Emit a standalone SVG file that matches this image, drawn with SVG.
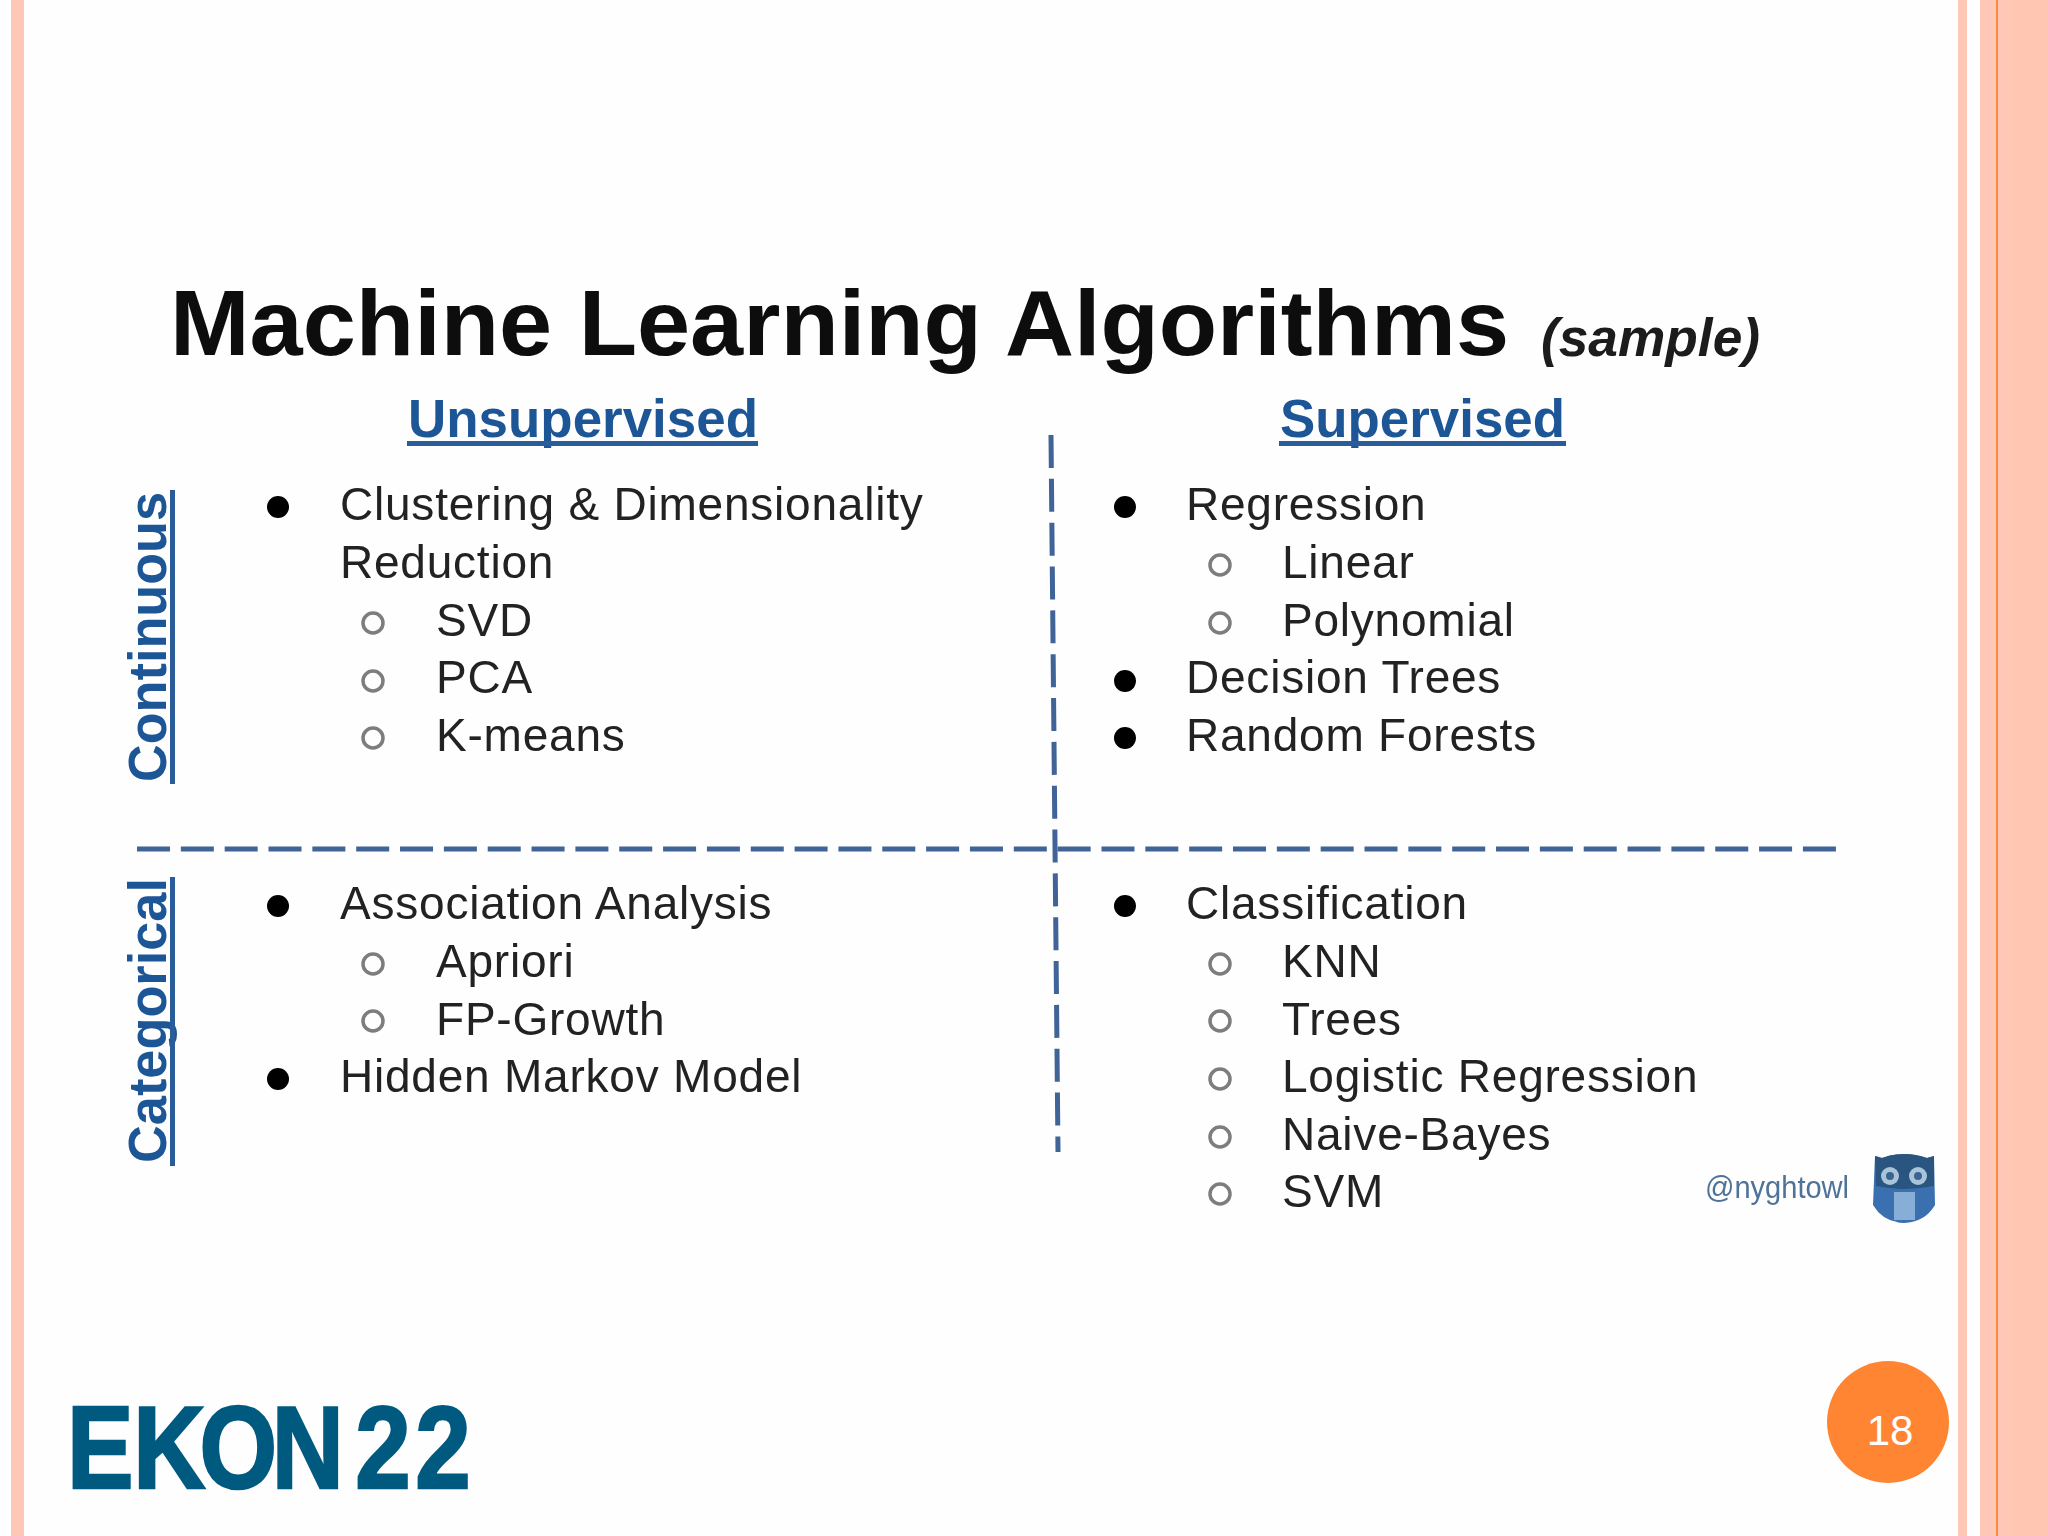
<svg xmlns="http://www.w3.org/2000/svg" width="2048" height="1536" viewBox="0 0 2048 1536">
<style>
text{font-family:"Liberation Sans",Arial,sans-serif}
.b{font-size:46px;letter-spacing:.78px;fill:#222}
.h{font-size:53px;font-weight:bold;fill:#1f5696}
.r{fill:none;stroke:#7d7d7d;stroke-width:3.5}
.d{fill:#000}
.dash{fill:none;stroke:#3f6398;stroke-width:5;stroke-dasharray:33 10.84}
.u{fill:#2a5c9a}
</style>
<defs><filter id="soft" x="-5%" y="-5%" width="110%" height="110%"><feGaussianBlur stdDeviation="0.7"/></filter></defs>
<rect id="background" width="2048" height="1536" fill="#fefefe"/>
<g id="frame">
<rect x="11" width="13" height="1536" fill="#ffc8b6"/>
<rect x="1958" width="9" height="1536" fill="#ffc8b6"/>
<rect x="1980" width="68" height="1536" fill="#ffc8b6"/>
<rect x="2012" width="36" height="1536" fill="#ffc6b2"/>
<rect x="1996" width="2" height="1536" fill="#ff8a3e"/>
</g>
<g id="slide-image" filter="url(#soft)">
<g id="title">
<text x="170" y="355" font-size="92" font-weight="bold" fill="#0c0c0c" textLength="1339" lengthAdjust="spacingAndGlyphs">Machine Learning Algorithms</text>
<text x="1541" y="356" font-size="53" font-weight="bold" font-style="italic" fill="#1a1a1a" textLength="219" lengthAdjust="spacingAndGlyphs">(sample)</text>
</g>
<g id="headers">
<text class="h" x="408" y="437" textLength="350" lengthAdjust="spacingAndGlyphs">Unsupervised</text>
<rect class="u" x="407" y="441" width="351" height="5"/>
<text class="h" x="1280" y="437" textLength="285" lengthAdjust="spacingAndGlyphs">Supervised</text>
<rect class="u" x="1279" y="441" width="287" height="5"/>
</g>
<g id="axis-continuous">
<text class="h" transform="translate(166 782) rotate(-90)" textLength="290" lengthAdjust="spacingAndGlyphs">Continuous</text>
<rect class="u" x="170" y="490" width="5" height="294"/>
</g>
<g id="axis-categorical">
<text class="h" transform="translate(166 1163) rotate(-90)" textLength="285" lengthAdjust="spacingAndGlyphs">Categorical</text>
<rect class="u" x="170" y="877" width="5" height="289"/>
</g>
<g id="dividers">
<path class="dash" d="M137 849H1840"/>
<path class="dash" d="M1051 435L1058 1152"/>
</g>
<g id="unsupervised-continuous">
<circle class="d" cx="278" cy="507" r="11"/>
<text class="b" x="340" y="520">Clustering &amp; Dimensionality</text>
<text class="b" x="340" y="578">Reduction</text>
<circle class="r" cx="373" cy="623" r="10"/><text class="b" x="436" y="636">SVD</text>
<circle class="r" cx="373" cy="681" r="10"/><text class="b" x="436" y="693">PCA</text>
<circle class="r" cx="373" cy="738" r="10"/><text class="b" x="436" y="751">K-means</text>
</g>
<g id="supervised-continuous">
<circle class="d" cx="1125" cy="507" r="11"/><text class="b" x="1186" y="520">Regression</text>
<circle class="r" cx="1220" cy="565" r="10"/><text class="b" x="1282" y="578">Linear</text>
<circle class="r" cx="1220" cy="623" r="10"/><text class="b" x="1282" y="636">Polynomial</text>
<circle class="d" cx="1125" cy="681" r="11"/><text class="b" x="1186" y="693">Decision Trees</text>
<circle class="d" cx="1125" cy="738" r="11"/><text class="b" x="1186" y="751">Random Forests</text>
</g>
<g id="unsupervised-categorical">
<circle class="d" cx="278" cy="906" r="11"/><text class="b" x="340" y="919">Association Analysis</text>
<circle class="r" cx="373" cy="964" r="10"/><text class="b" x="436" y="977">Apriori</text>
<circle class="r" cx="373" cy="1021" r="10"/><text class="b" x="436" y="1035">FP-Growth</text>
<circle class="d" cx="278" cy="1079" r="11"/><text class="b" x="340" y="1092">Hidden Markov Model</text>
</g>
<g id="supervised-categorical">
<circle class="d" cx="1125" cy="906" r="11"/><text class="b" x="1186" y="919">Classification</text>
<circle class="r" cx="1220" cy="964" r="10"/><text class="b" x="1282" y="977">KNN</text>
<circle class="r" cx="1220" cy="1021" r="10"/><text class="b" x="1282" y="1035">Trees</text>
<circle class="r" cx="1220" cy="1079" r="10"/><text class="b" x="1282" y="1092">Logistic Regression</text>
<circle class="r" cx="1220" cy="1137" r="10"/><text class="b" x="1282" y="1150">Naive-Bayes</text>
<circle class="r" cx="1220" cy="1194" r="10"/><text class="b" x="1282" y="1207">SVM</text>
</g>
<g id="credit">
<text x="1705" y="1198" font-size="31" fill="#4f7299" textLength="144" lengthAdjust="spacingAndGlyphs">@nyghtowl</text>
<path id="owl" d="M1875 1156L1882 1158Q1904 1150 1927 1158L1934 1156L1935 1205Q1925 1222 1904 1223Q1883 1222 1873 1205Z" fill="#3a70b0"/>
<path d="M1875 1156L1882 1158Q1904 1150 1927 1158L1934 1156L1934 1186Q1904 1192 1876 1186Z" fill="#2a5580"/>
<circle cx="1890" cy="1176" r="9" fill="#a9c4d8"/><circle cx="1918" cy="1176" r="9" fill="#a9c4d8"/>
<circle cx="1890" cy="1176" r="4" fill="#3a6590"/><circle cx="1918" cy="1176" r="4" fill="#3a6590"/>
<path d="M1894 1192H1915V1220H1894Z" fill="#86aed6"/>
</g>
</g>
<g id="logo">
<text transform="translate(0 1488) scale(.86 1)" x="78 155 232 316 405 413 483" font-size="116" font-weight="bold" fill="#005a80" stroke="#005a80" stroke-width="2.5">EKON 22</text>
</g>
<g id="page-number">
<circle cx="1888" cy="1422" r="61" fill="#ff8533"/>
<text x="1890" y="1445" font-size="42" fill="#fff" text-anchor="middle">18</text>
</g>
</svg>
